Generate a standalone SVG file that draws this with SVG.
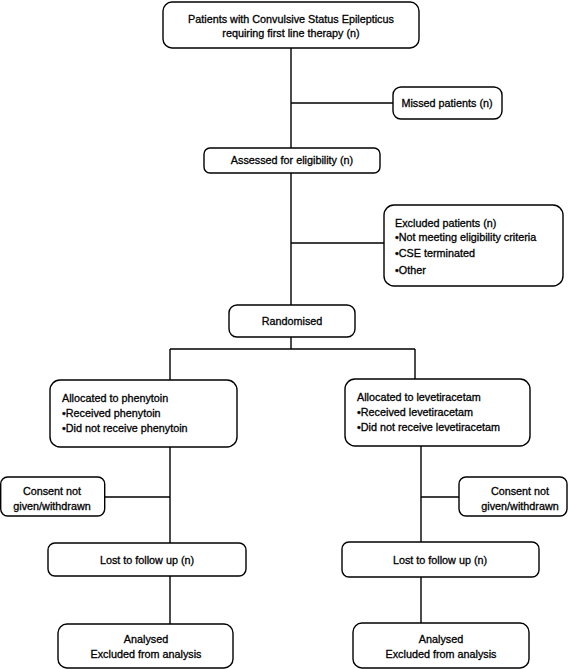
<svg xmlns="http://www.w3.org/2000/svg" width="568" height="669" viewBox="0 0 568 669">
<style>
.b{fill:#fff;stroke:#000;stroke-width:1.4}
.t{font-family:"Liberation Sans",Arial,sans-serif;font-size:10.8px;fill:#000;stroke:#000;stroke-width:0.3}
.c{text-anchor:middle}
.l{fill:none;stroke:#000;stroke-width:1.4}
</style>
<rect width="568" height="669" fill="#fff"/>
<g id="connectors">
<path class="l" d="M291 48V148M291 103H393M291 173V305M291 243H384M291 337V349M170 349H415M170 349V380M415 349V379M170 447V543M105 497H170M421 446V542M421 497H459M170 576V624M421 577V623"/>
</g>
<g id="n1"><rect class="b" x="163" y="2" width="256" height="46" rx="9"/>
<text class="t c" x="291" y="23">Patients with Convulsive Status Epilepticus</text>
<text class="t c" x="291" y="37">requiring first line therapy (n)</text></g>
<g id="n2"><rect class="b" x="393" y="87" width="109" height="32" rx="8"/>
<text class="t c" x="447" y="107">Missed patients (n)</text></g>
<g id="n3"><rect class="b" x="204" y="148" width="176" height="25" rx="6"/>
<text class="t c" x="292" y="164">Assessed for eligibility (n)</text></g>
<g id="n4"><rect class="b" x="384" y="205" width="179" height="81" rx="10"/>
<text class="t" x="395" y="227">Excluded patients (n)</text>
<text class="t" x="395" y="241">•Not meeting eligibility criteria</text>
<text class="t" x="395" y="257">•CSE terminated</text>
<text class="t" x="395" y="274">•Other</text></g>
<g id="n5"><rect class="b" x="229" y="305" width="126" height="32" rx="8"/>
<text class="t c" x="292" y="325">Randomised</text></g>
<g id="n6"><rect class="b" x="50" y="380" width="187" height="67" rx="10"/>
<text class="t" x="62" y="402">Allocated to phenytoin</text>
<text class="t" x="62" y="417">•Received phenytoin</text>
<text class="t" x="62" y="432">•Did not receive phenytoin</text></g>
<g id="n7"><rect class="b" x="345" y="379" width="185" height="67" rx="10"/>
<text class="t" x="357" y="401">Allocated to levetiracetam</text>
<text class="t" x="357" y="416">•Received levetiracetam</text>
<text class="t" x="357" y="431">•Did not receive levetiracetam</text></g>
<g id="n8"><rect class="b" x="0.7" y="477" width="104" height="39" rx="7"/>
<text class="t c" x="52" y="495">Consent not</text>
<text class="t c" x="52" y="510">given/withdrawn</text></g>
<g id="n9"><rect class="b" x="459" y="477" width="108" height="39" rx="7"/>
<text class="t c" x="520" y="495">Consent not</text>
<text class="t c" x="520" y="510">given/withdrawn</text></g>
<g id="n10"><rect class="b" x="48" y="543" width="198" height="33" rx="7"/>
<text class="t c" x="147" y="564">Lost to follow up (n)</text></g>
<g id="n11"><rect class="b" x="342" y="542" width="197" height="35" rx="7"/>
<text class="t c" x="440" y="564">Lost to follow up (n)</text></g>
<g id="n12"><rect class="b" x="58" y="624" width="175" height="44" rx="9"/>
<text class="t c" x="146" y="643">Analysed</text>
<text class="t c" x="146" y="658">Excluded from analysis</text></g>
<g id="n13"><rect class="b" x="353" y="623" width="176" height="45" rx="9"/>
<text class="t c" x="441" y="643">Analysed</text>
<text class="t c" x="441" y="658">Excluded from analysis</text></g>
</svg>
